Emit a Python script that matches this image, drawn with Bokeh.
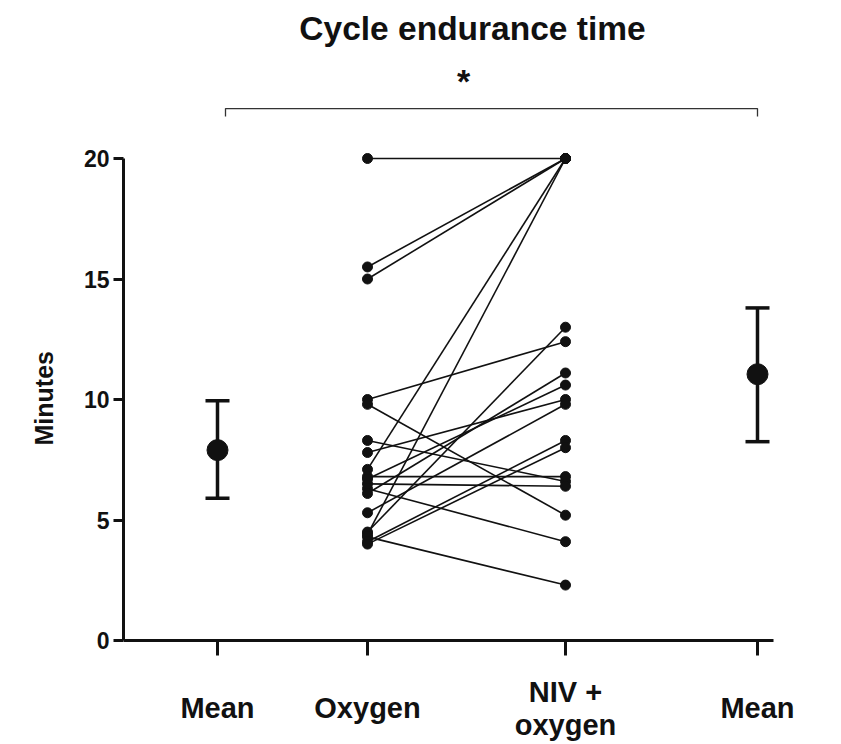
from bokeh.plotting import figure
from bokeh.models import (Range1d, FixedTicker, ColumnDataSource, Label, Whisker,
                          TeeHead, Title)
from bokeh.core.properties import value
from bokeh.embed import file_html
from bokeh.resources import INLINE

# ---- data ----
categories = ["Mean", "Oxygen", "NIV +\noxygen", "Mean"]
# paired subjects: cycle endurance time (minutes)
oxygen = [20.0, 15.5, 15.0, 7.1, 4.4, 10.0, 9.8, 4.5, 4.3, 6.3,
          8.3, 7.8, 6.8, 6.5, 6.1, 5.3, 4.1, 4.0, 6.7]
niv_oxygen = [20.0, 20.0, 20.0, 20.0, 20.0, 12.4, 5.2, 13.0, 2.3, 4.1,
              6.6, 10.0, 6.8, 6.4, 11.1, 9.8, 8.3, 8.0, 10.6]
mean_values = [7.9, 11.05]
mean_lower = [5.9, 8.25]
mean_upper = [9.95, 13.8]
y_ticks = [0, 5, 10, 15, 20]
title_text = "Cycle endurance time"
y_label = "Minutes"
significance = "*"

# ---- layout positions ----
x_pos = [0.94, 2.44, 4.42, 6.34]
bracket_x = [1.02, 6.34]
bracket_y = 22.07
bracket_drop = 0.33
cat_label_y = -2.82       # centre of category label block (data units)
cat_line_step = 1.37      # line spacing of category labels (data units)
FONT = "Liberation Sans"
INK = "#111111"

p = figure(width=841, height=744,
           x_range=Range1d(0, 7.18), y_range=Range1d(-104 / 24.1, 640 / 24.1),
           x_axis_location="above",
           min_border_left=123, min_border_right=0, min_border_top=0,
           min_border_bottom=0, output_backend="svg", toolbar_location=None)
p.outline_line_color = None
p.xgrid.visible = False
p.ygrid.visible = False
p.background_fill_color = "white"
p.border_fill_color = "white"

# y axis
ya = p.yaxis[0]
ya.ticker = FixedTicker(ticks=y_ticks)
ya.bounds = (0, 20)
ya.axis_line_width = 3
ya.axis_line_color = INK
ya.major_tick_line_width = 3
ya.major_tick_line_color = INK
ya.major_tick_out = 10
ya.major_tick_in = 0
ya.minor_tick_line_color = None
ya.major_label_text_font = FONT
ya.major_label_text_font_style = "bold"
ya.major_label_text_font_size = "23px"
ya.major_label_text_color = INK
ya.major_label_standoff = 4

# y axis title (left panel, positioned along the 0-20 span)
p.add_layout(Title(text=y_label, align="left", offset=299, standoff=46,
                   text_font=FONT, text_font_style="bold", text_font_size="25px",
                   text_color=INK), "left")

# x axis drawn at y = 0 (ticks only; category labels drawn as text)
xa = p.xaxis[0]
xa.fixed_location = 0
xa.ticker = FixedTicker(ticks=x_pos)
xa.bounds = (0, 6.5)
xa.major_label_overrides = {x: "" for x in x_pos}
xa.major_label_text_font_size = "0px"
xa.major_label_standoff = 0
xa.axis_line_width = 3
xa.axis_line_color = INK
xa.major_tick_line_width = 3
xa.major_tick_line_color = INK
xa.major_tick_out = 0
xa.major_tick_in = 15
xa.minor_tick_line_color = None

lab_x, lab_y, lab_t = [], [], []
for x, cat in zip(x_pos, categories):
    lines = cat.split("\n")
    n = len(lines)
    for i, line in enumerate(lines):
        lab_x.append(x)
        lab_y.append(cat_label_y - (i - (n - 1) / 2) * cat_line_step)
        lab_t.append(line)
p.text(x=lab_x, y=lab_y, text=lab_t, text_font=value(FONT),
       text_font_style="bold", text_font_size="29px", text_align="center",
       text_baseline="middle", text_color=INK)

# paired lines
xs = [[x_pos[1], x_pos[2]] for _ in oxygen]
ys = [[o, n] for o, n in zip(oxygen, niv_oxygen)]
p.multi_line(xs=xs, ys=ys, line_color=INK, line_width=1.6)
p.scatter(x=[x_pos[1]] * len(oxygen), y=oxygen, size=10, color=INK)
p.scatter(x=[x_pos[2]] * len(niv_oxygen), y=niv_oxygen, size=10, color=INK)

# means with error bars
msrc = ColumnDataSource(dict(x=[x_pos[0], x_pos[3]], m=mean_values,
                             lo=mean_lower, hi=mean_upper))
wh = Whisker(base="x", lower="lo", upper="hi", source=msrc, dimension="height",
             line_width=3.5, line_color=INK,
             upper_head=TeeHead(size=24, line_width=3.5, line_color=INK),
             lower_head=TeeHead(size=24, line_width=3.5, line_color=INK))
p.add_layout(wh)
p.scatter(x="x", y="m", source=msrc, size=21, color=INK)

# significance bracket
p.line(x=[bracket_x[0], bracket_x[0], bracket_x[1], bracket_x[1]],
       y=[bracket_y - bracket_drop, bracket_y, bracket_y, bracket_y - bracket_drop],
       line_color="#333333", line_width=1.3)
p.add_layout(Label(x=3.40, y=23.2, text=significance, text_font=FONT,
                   text_font_style="bold", text_font_size="34px",
                   text_align="center", text_baseline="middle", text_color=INK))
p.add_layout(Label(x=3.49, y=25.4, text=title_text, text_font=FONT,
                   text_font_style="bold", text_font_size="33.5px",
                   text_align="center", text_baseline="middle", text_color=INK))

open("out.html", "w").write(file_html(p, INLINE))
